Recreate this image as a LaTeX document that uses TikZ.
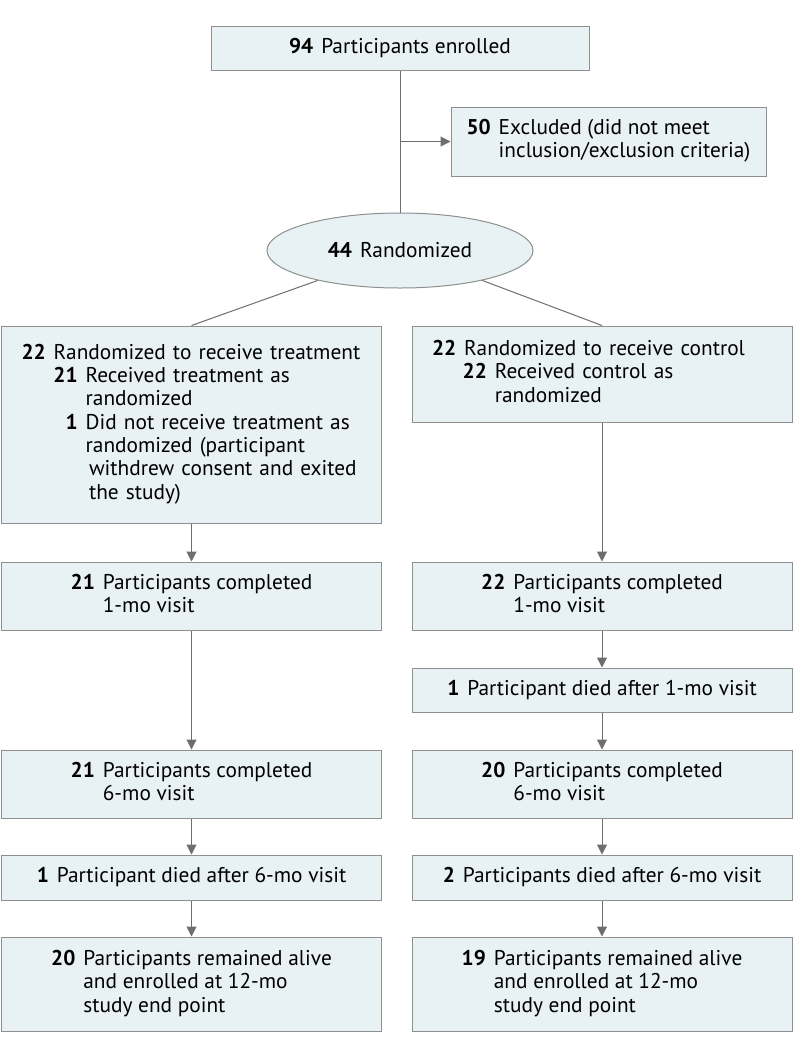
\documentclass[tikz,border=0pt]{standalone}
\usepackage{fontspec}
\setmainfont{PT Sans}
\usetikzlibrary{arrows.meta,shapes.geometric}
\definecolor{boxfill}{HTML}{E8F1F3}
\definecolor{boxline}{HTML}{8F8F8F}
\definecolor{arrgray}{HTML}{6E6E6E}
\begin{document}
\begin{tikzpicture}[x=0.75pt,y=-0.75pt]
        \tikzstyle{block} = [rectangle, draw=boxline, fill=boxfill, line width=.75pt, text=black, inner sep=0pt, font=\fontsize{16pt}{17.5pt}\selectfont, minimum width=285pt]
        \tikzstyle{line} = [-{Triangle[length=7.5pt,width=7.5pt]}, draw=arrgray, line width=.75pt]
        \tikzstyle{link} = [draw=arrgray, line width=.75pt]
        \useasboundingbox (0,0) rectangle (798,1050);
        \node[block, minimum width=283.5pt, minimum height=33pt] (enrolled) at (400,48) {\textbf{94}\hspace{6pt}Participants enrolled};
        \node[block, minimum width=236.25pt, minimum height=51.75pt] (excluded) at (608.5,141.5) {\begin{tabular}{@{}r@{\hspace{6pt}}l@{}}\textbf{50} & Excluded (did not meet\\ & inclusion/exclusion criteria)\end{tabular}};
        \node[block, ellipse, minimum width=199.5pt, minimum height=56.25pt] (randomized) at (400,250.5) {\textbf{44}\hspace{6pt}Randomized};
        \node[block, minimum height=147.75pt, text width=255pt, align=left] (treat) at (191.5,424.5) {\noindent\begin{tabular}{@{}l@{\hspace{24pt}}r@{\hspace{6pt}}l@{}}\multicolumn{3}{@{}l@{}}{\textbf{22}\hspace{6pt}Randomized to receive treatment}\\ & \textbf{21} & Received treatment as\\ & & randomized\\ & \textbf{1} & Did not receive treatment as\\ & & randomized (participant\\ & & \hspace{2.5pt}withdrew consent and exited\\ & & \hspace{2.5pt}the study)\end{tabular}};
        \node[block, minimum height=72pt, text width=255pt, align=left] (control) at (602,374) {\noindent\begin{tabular}{@{}l@{\hspace{23pt}}r@{\hspace{6pt}}l@{}}\multicolumn{3}{@{}l@{}}{\textbf{22}\hspace{6pt}Randomized to receive control}\\ & \textbf{22} & Received control as\\ & & randomized\end{tabular}};
        \node[block, minimum height=51pt] (treatone) at (191.5,596) {\begin{tabular}{@{}r@{\hspace{6pt}}l@{}}\textbf{21} & Participants completed\\ & 1-mo visit\end{tabular}};
        \node[block, minimum height=51pt] (controlone) at (602,596) {\begin{tabular}{@{}r@{\hspace{6pt}}l@{}}\textbf{22} & Participants completed\\ & 1-mo visit\end{tabular}};
        \node[block, minimum height=33pt] (controldied) at (602,690) {\textbf{1}\hspace{6pt}Participant died after 1-mo visit};
        \node[block, minimum height=51pt] (treatsix) at (191.5,784) {\begin{tabular}{@{}r@{\hspace{6pt}}l@{}}\textbf{21} & Participants completed\\ & 6-mo visit\end{tabular}};
        \node[block, minimum height=51pt] (controlsix) at (602,784) {\begin{tabular}{@{}r@{\hspace{6pt}}l@{}}\textbf{20} & Participants completed\\ & 6-mo visit\end{tabular}};
        \node[block, minimum height=33.75pt] (treatdied) at (191.5,877.5) {\textbf{1}\hspace{6pt}Participant died after 6-mo visit};
        \node[block, minimum height=33.75pt] (controldiedsix) at (602,877.5) {\textbf{2}\hspace{6pt}Participants died after 6-mo visit};
        \node[block, minimum height=70.5pt] (treatend) at (191.5,984) {\begin{tabular}{@{}r@{\hspace{6pt}}l@{}}\textbf{20} & Participants remained alive\\ & and enrolled at 12-mo\\ & study end point\end{tabular}};
        \node[block, minimum height=70.5pt] (controlend) at (602,984) {\begin{tabular}{@{}r@{\hspace{6pt}}l@{}}\textbf{19} & Participants remained alive\\ & and enrolled at 12-mo\\ & study end point\end{tabular}};
        \coordinate (split) at (enrolled.south |- excluded.west);
        \draw[link] (enrolled) to (randomized);
        \draw[line] (split) to (excluded);
        \draw[link] (randomized.200) to (treat.north);
        \draw[link] (randomized.340) to (control.north);
        \draw[line] (treat) to (treatone);
        \draw[line] (treatone) to (treatsix);
        \draw[line] (treatsix) to (treatdied);
        \draw[line] (treatdied) to (treatend);
        \draw[line] (control) to (controlone);
        \draw[line] (controlone) to (controldied);
        \draw[line] (controldied) to (controlsix);
        \draw[line] (controlsix) to (controldiedsix);
        \draw[line] (controldiedsix) to (controlend);
    \end{tikzpicture}
\end{document}
